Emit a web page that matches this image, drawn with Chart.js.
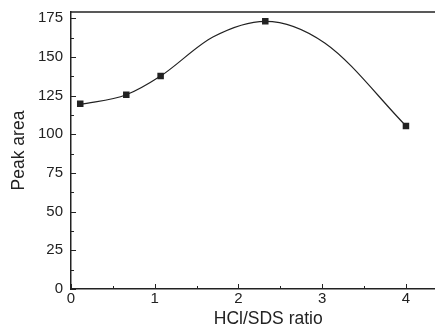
<!DOCTYPE html>
<html>
<head>
<meta charset="utf-8">
<script src="https://cdn.jsdelivr.net/npm/chart.js@4/dist/chart.umd.min.js"></script>
<style>
  html, body { margin: 0; padding: 0; background: #fff; overflow: hidden; }
  #wrap { width: 470px; height: 335px; position: absolute; left: 0; top: -5px; }
</style>
</head>
<body>
<div id="wrap"><canvas id="mainchart"></canvas></div>
<script>
// measured points (squares)
var ratio = [0.11, 0.66, 1.07, 2.32, 4.0];
var peakArea = [119.7, 125.5, 137.6, 173.0, 105.4];
// fitted curve, vertices
var curveX = [0.11, 0.66, 1.07, 1.70, 2.32, 3.03, 4.0];
var curveY = [119.2, 125.5, 137.6, 163.0, 173.0, 159.0, 105.4];
var xTicks = [0, 1, 2, 3, 4];
var yTicks = [0, 25, 50, 75, 100, 125, 150, 175];

var ink = '#222';
var ctx = document.getElementById('mainchart').getContext('2d');

// ticks point inwards, plus minor ticks and the top frame line
var innerTicks = {
    id: 'innerTicks',
    afterDraw: function (chart) {
        var c = chart.ctx, a = chart.chartArea;
        var xs = chart.scales.x, ys = chart.scales.y;
        c.save();
        c.strokeStyle = ink;
        c.lineWidth = 1;
        c.beginPath();
        xTicks.forEach(function (v) {
            var px = Math.round(xs.getPixelForValue(v)) + 0.5;
            c.moveTo(px, a.bottom); c.lineTo(px, a.bottom - 5);
            var mx = Math.round(xs.getPixelForValue(v + 0.5)) + 0.5;
            c.moveTo(mx, a.bottom); c.lineTo(mx, a.bottom - 3);
        });
        yTicks.forEach(function (v) {
            var py = Math.round(ys.getPixelForValue(v)) + 0.5;
            c.moveTo(a.left, py); c.lineTo(a.left + 5, py);
            var my = Math.round(ys.getPixelForValue(v + 12.5)) + 0.5;
            if (my > a.top) { c.moveTo(a.left, my); c.lineTo(a.left + 3, my); }
        });
        c.stroke();
        c.lineWidth = 1.5;
        c.beginPath();
        c.moveTo(a.left, a.top); c.lineTo(a.right, a.top);
        c.stroke();
        c.restore();
    }
};

var chart = new Chart(ctx, {
    type: 'scatter',
    data: {
        datasets: [{
                label: 'fit',
                data: curveX.map(function (x, i) { return {x: x, y: curveY[i]}; }),
                showLine: true,
                borderColor: ink,
                borderWidth: 1.2,
                cubicInterpolationMode: 'monotone',
                pointRadius: 0,
                fill: false
            },
            {
                label: 'Peak area',
                data: ratio.map(function (x, i) { return {x: x, y: peakArea[i]}; }),
                showLine: false,
                pointStyle: 'rect',
                pointRadius: 4.6,
                backgroundColor: ink,
                borderColor: ink,
                borderWidth: 0
            }]
    },
    options: {
        maintainAspectRatio: false,
        animation: false,
        layout: {padding: {left: 9, top: 7, right: 0, bottom: 0}},
        plugins: {legend: {display: false}, tooltip: {enabled: false}},
        scales: {
            x: {
                type: 'linear',
                min: 0,
                max: 4.71,
                afterBuildTicks: function (s) { s.ticks = xTicks.map(function (v) { return {value: v}; }); },
                ticks: {color: ink, font: {family: 'Liberation Sans, Arial', size: 15}, padding: 1},
                grid: {display: false, drawTicks: false},
                border: {display: true, color: ink, width: 1.5},
                title: {display: true, text: 'HCl/SDS ratio', color: ink,
                        font: {family: 'Liberation Sans, Arial', size: 17.5}, padding: {top: 0, bottom: 0}}
            },
            y: {
                min: 0,
                max: 179,
                afterBuildTicks: function (s) { s.ticks = yTicks.map(function (v) { return {value: v}; }); },
                ticks: {color: ink, font: {family: 'Liberation Sans, Arial', size: 15}, padding: 8},
                grid: {display: false, drawTicks: false},
                border: {display: true, color: ink, width: 1.5},
                title: {display: true, text: 'Peak area', color: ink,
                        font: {family: 'Liberation Sans, Arial', size: 17.5}, padding: 0}
            }
        }
    },
    plugins: [innerTicks]
});
</script>
</body>
</html>
